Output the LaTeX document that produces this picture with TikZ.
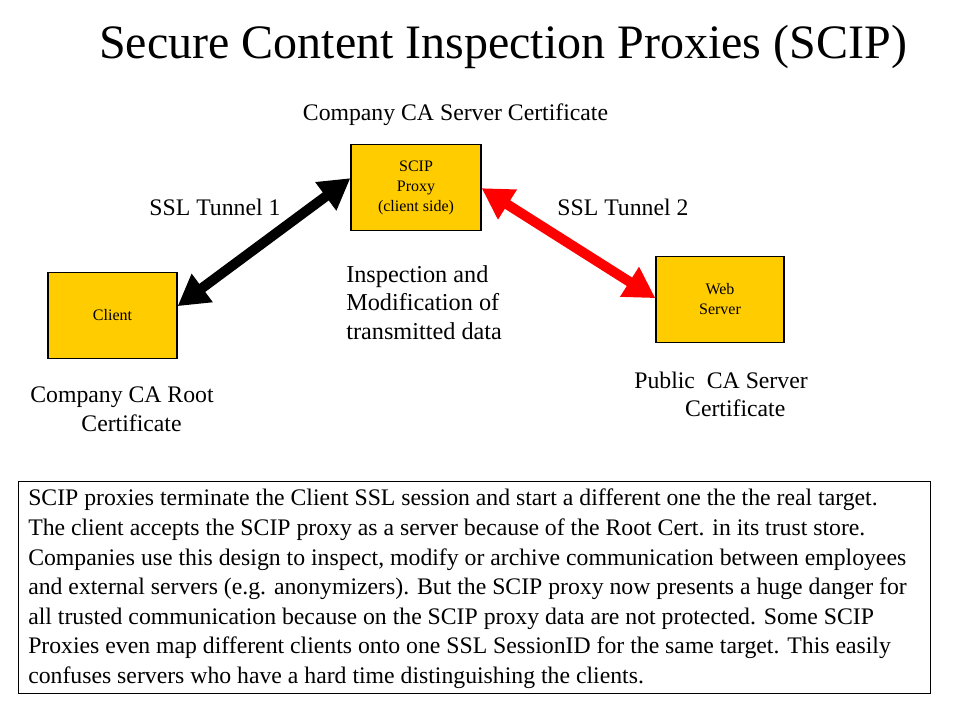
\documentclass[tikz,border=0pt]{standalone}
\usepackage{fontspec}
\setmainfont{Liberation Serif}
\usetikzlibrary{arrows.meta,calc}
\definecolor{gold}{HTML}{FFCC00}
\begin{document}
\begin{tikzpicture}[x=0.75pt,y=-0.75pt,
  box/.style={draw=black,line width=0.9pt,fill=gold,minimum width=97.5pt,minimum height=65pt,inner sep=0pt,align=center,font=\fontsize{12pt}{15pt}\selectfont},
  lbl/.style={font=\fontsize{17.8pt}{21.5pt}\selectfont,inner sep=0pt},
  bigarrow/.style={line width=7.5pt,{Triangle[length=23pt,width=25pt]}-{Triangle[length=23pt,width=25pt]},shorten <=0pt,shorten >=0pt}]
\useasboundingbox (0,0) rectangle (960,720);
\node[font=\fontsize{36pt}{40pt}\selectfont,inner sep=0pt] (title) at (503,47) {Secure Content Inspection Proxies (SCIP)};
\node[box,minimum width=97.5pt,minimum height=64pt] (proxy) at (416,187.5) {SCIP\\Proxy\\(client side)};
\node[box,minimum width=96.75pt,minimum height=65pt] (client) at (112.5,315.5) {Client};
\node[box,minimum width=96pt,minimum height=65pt] (web) at (720,299.5) {Web\\Server};
\node[lbl] (cert1) at (455.5,115) {Company CA Server Certificate};
\node[lbl] (t1) at (215,207) {SSL Tunnel 1};
\node[lbl] (t2) at (623,207) {SSL Tunnel 2};
\node[lbl,align=left,anchor=west,font=\fontsize{18.2pt}{21.4pt}\selectfont] (insp) at (346,302.5) {Inspection and\\Modification of\\transmitted data};
\node[lbl,align=center] (cert2) at (122,409.5) {Company CA Root\\\hspace*{0.8em}Certificate};
\node[lbl,align=center] (cert3) at (721,394.5) {Public\ \ CA Server\\\hspace*{1.2em}Certificate};
\draw[bigarrow,black] ([yshift=7pt]client.east) -- ([yshift=7pt]proxy.west);
\draw[bigarrow,red] ([yshift=-0.5pt]proxy.east) -- ([yshift=1pt]web.west);
\node[draw=black,line width=0.75pt,minimum width=684pt,minimum height=159pt,inner sep=0pt] (descbox) at (474,587) {};
\node[lbl,align=left,anchor=north west,font=\fontsize{17.8pt}{22.2pt}\selectfont] (desc) at (28,489) {SCIP proxies terminate the Client SSL session and start a different one the the real target.\\
The client accepts the SCIP proxy as a server because of the Root Cert. in its trust store.\\
Companies use this design to inspect, modify or archive communication between employees\\
and external servers (e.g. anonymizers). But the SCIP proxy now presents a huge danger for\\
all trusted communication because on the SCIP proxy data are not protected. Some SCIP\\
Proxies even map different clients onto one SSL SessionID for the same target. This easily\\
confuses servers who have a hard time distinguishing the clients.};
\end{tikzpicture}
\end{document}
